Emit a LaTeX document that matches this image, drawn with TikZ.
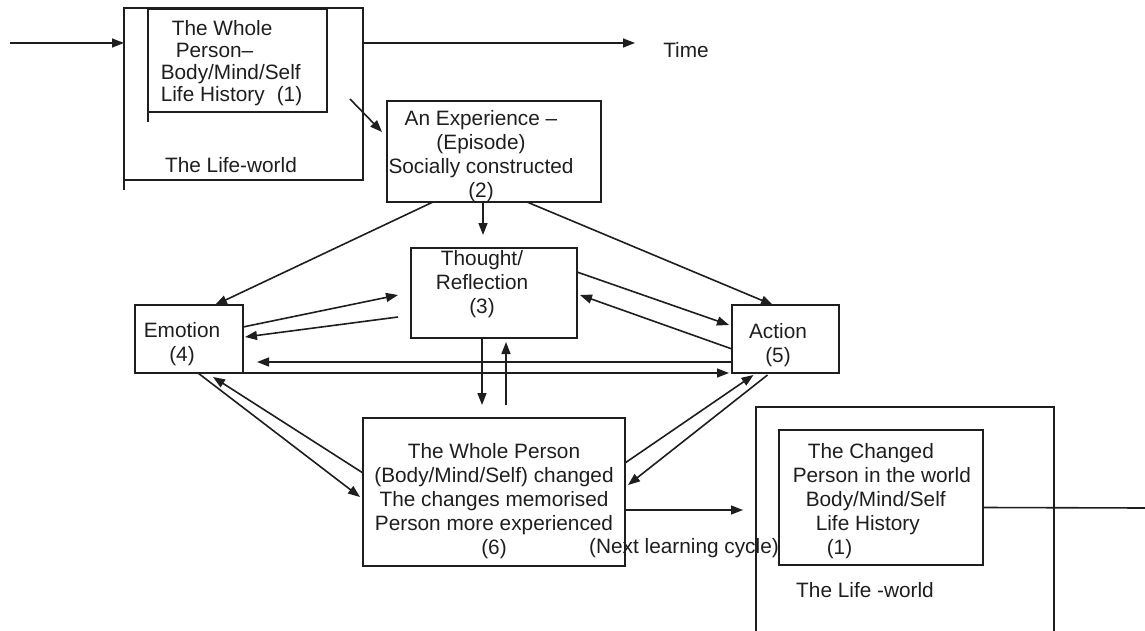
\documentclass[tikz,border=0pt]{standalone}
\usepackage{fontspec}
\setmainfont{Liberation Sans}
\usetikzlibrary{arrows.meta}
\definecolor{ink}{HTML}{1E1E1E}

\begin{document}
\begin{tikzpicture}[x=1pt, y=-1pt, line width=1.6pt, color=ink,
    font=\fontsize{20.8}{24}\selectfont,
    box/.style={draw, rectangle, inner sep=0pt, outer sep=0pt, anchor=north west},
    words/.style={inner sep=0pt, align=center, anchor=north},
    arr/.style={-{Triangle[length=12pt,width=9pt]}}]
    \clip (0,0) rectangle (1145,631);

    % boxes
    \node[box, minimum width=239pt, minimum height=172pt] (lifeA) at (124,8) {};
    \node[box, minimum width=179pt, minimum height=103pt] (personA) at (148,9) {};
    \node[box, minimum width=214pt, minimum height=101pt] (exp) at (387,101) {};
    \node[box, minimum width=166pt, minimum height=90pt] (thought) at (411,248) {};
    \node[box, minimum width=108pt, minimum height=68pt] (emo) at (135,305) {};
    \node[box, minimum width=107pt, minimum height=68pt] (act) at (732,305) {};
    \node[box, minimum width=262pt, minimum height=148pt] (whole) at (363,418) {};
    \node[box, minimum width=298pt, minimum height=240pt] (lifeB) at (756,407) {};
    \node[box, minimum width=204pt, minimum height=135pt] (personB) at (779,430) {};
    \draw (lifeA.south west) -- ++(0,10);
    \draw (personA.south west) -- ++(0,10);

    % texts
    \node[words, align=left, anchor=north west, font=\fontsize{20.8}{22}\selectfont] (personAtext) at (160,20)
        {\hspace*{11pt}The Whole\\\hspace*{15pt}Person–\\Body/Mind/Self\\Life History\hspace{12pt}(1)};
    \node[anchor=base, inner sep=0pt] (lifeAtext) at (231,173) {The Life-world};
    \node[anchor=base, inner sep=0pt] (time) at (686,58) {Time};
    \node[words] (expText) at (481,110) {An Experience –\\(Episode)\\Socially constructed\\(2)};
    \node[words] (thoughtText) at (482,250) {Thought/\\Reflection\\(3)};
    \node[words] (emoText) at (182,322) {Emotion\\(4)};
    \node[words] (actText) at (778,323) {Action\\(5)};
    \node[words] (wholeText) at (494,443)
        {The Whole Person\\(Body/Mind/Self) changed\\The changes memorised\\Person more experienced\\(6)};
    \node[anchor=base, inner sep=0pt] (nextText) at (684,553) {(Next learning cycle)};
    \node[words, align=left, anchor=north west] (personBtext) at (792,443)
        {\hspace*{15pt}The Changed\\Person in the world\\\hspace*{13pt}Body/Mind/Self\\\hspace*{23pt}Life History\\\hspace*{34pt}(1)};
    \node[anchor=base, inner sep=0pt] (lifeBtext) at (865,597) {The Life -world};

    % time line
    \coordinate (inStart) at (10,43);
    \coordinate (timeEnd) at (635,43);
    \coordinate (outEnd) at (1145,508);
    \draw[arr] (inStart) -- ([yshift=-35pt]lifeA.north west);
    \draw[arr] ([yshift=-35pt]lifeA.north east) -- (timeEnd);
    \draw ([yshift=-10pt]personB.east) -- (outEnd);

    % the cycle
    \draw[arr] ([xshift=23pt,yshift=13pt]personA.south east) -- ([xshift=-5pt,yshift=-31pt]exp.north west);
    \draw[arr] ([xshift=-11pt]exp.south) -- ([xshift=-11pt,yshift=13pt]thought.north);
    \draw[arr] ([xshift=46pt]exp.south west) -- ([xshift=80pt]emo.north west);
    \draw[arr] ([xshift=140pt]exp.south west) -- ([xshift=41pt]act.north west);
    \draw[arr] ([yshift=-22pt]emo.north east) -- ([xshift=-13pt,yshift=-2pt]thought.west);
    \draw[arr] ([xshift=-13pt,yshift=-24pt]thought.west) -- ([xshift=2pt,yshift=2pt]emo.east);
    \draw[arr] ([yshift=21pt]thought.east) -- ([xshift=-3pt,yshift=14pt]act.west);
    \draw[arr] ([yshift=-10pt]act.west) -- ([xshift=3pt,yshift=-2pt]thought.east);
    \draw[arr] ([yshift=-23pt]act.west) -- ([xshift=14pt,yshift=-23pt]emo.east);
    \draw[arr] (emo.south east) -- ([xshift=-3pt]act.south west);
    \draw[arr] ([xshift=-12pt]thought.south) -- ([xshift=-12pt,yshift=13pt]whole.north);
    \draw[arr] ([xshift=12pt,yshift=13pt]whole.north) -- ([xshift=12pt,yshift=-4pt]thought.south);
    \draw[arr] ([xshift=9pt]emo.south) -- ([xshift=-3pt,yshift=-5pt]whole.west);
    \draw[arr] ([yshift=19pt]whole.west) -- ([xshift=24pt,yshift=-4pt]emo.south);
    \draw[arr] ([yshift=29pt]whole.east) -- ([xshift=-32pt,yshift=-2pt]act.south);
    \draw[arr] ([xshift=-18pt,yshift=-2pt]act.south) -- ([xshift=3pt,yshift=7pt]whole.east);
    \draw[arr] ([yshift=-18pt]whole.east) -- ([xshift=-13pt,yshift=17pt]lifeB.west);
\end{tikzpicture}
\end{document}
